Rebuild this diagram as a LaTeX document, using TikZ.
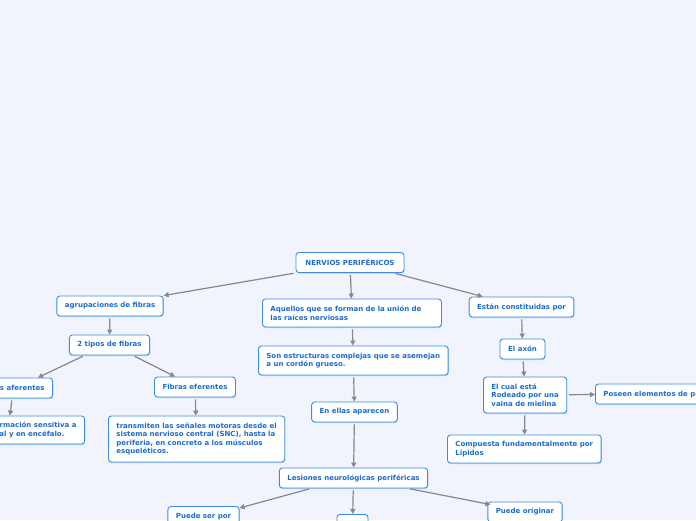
\documentclass[tikz,border=0pt]{standalone}
\usepackage{fontspec}
\setmainfont{DejaVu Sans}
\usetikzlibrary{arrows.meta,shadows}
\definecolor{bg}{RGB}{241,244,252}
\definecolor{bd}{RGB}{58,140,228}
\definecolor{tx}{RGB}{28,108,208}
\definecolor{ln}{RGB}{135,135,140}
\begin{document}
\begin{tikzpicture}[x=1pt, y=-1pt, b/.style={draw=bd, fill=white, line width=0.9pt, rounded corners=3pt, text=tx, font=\fontsize{7}{8.5}\selectfont\bfseries, inner xsep=8pt, inner ysep=2pt, minimum height=20pt, drop shadow={shadow xshift=0.4pt, shadow yshift=-1pt, opacity=0.35, fill=bd}}, ar/.style={draw=ln, line width=1.2pt, -{Triangle[length=5pt,width=5pt]}, shorten <=2pt}]
        \useasboundingbox (0,0) rectangle (696,520);
        \fill[bg] (0,0) rectangle (696,520);
        \clip (0,0) rectangle (696,520);
        \node[b, minimum width=108pt] (root) at (350,262.5) {NERVIOS PERIFÉRICOS};
        \node[b, minimum width=106pt] (agrup) at (110,306) {agrupaciones de fibras};
        \node[b, anchor=west, text width=163pt, align=left, minimum height=28pt] (aquellos) at (262,313) {Aquellos que se forman de la unión de\\las raíces nerviosas};
        \node[b, minimum width=103pt] (estan) at (521.5,307) {Están constituidas por};
        \node[b, minimum width=79pt] (tipos) at (109.5,345) {2 tipos de fibras};
        \node[b, anchor=west, align=left, minimum height=29pt] (son) at (258,360.5) {Son estructuras complejas que se asemejan\\a un cordón grueso.};
        \node[b, minimum width=45pt] (axon) at (522.5,349) {El axón};
        \node[b, anchor=east] (aferentes) at (53,388) {Fibras aferentes};
        \node[b, minimum width=80pt] (eferentes) at (195,387) {Fibras eferentes};
        \node[b, anchor=west, align=left, minimum height=36pt] (cual) at (483,395) {El cual está\\Rodeado por una\\vaina de mielina};
        \node[b, anchor=west] (poseen) at (595,394) {Poseen elementos de protección};
        \node[b, minimum width=85pt] (ellas) at (354.5,412) {En ellas aparecen};
        \node[b, anchor=east, align=left, minimum height=28pt] (sensitiva) at (85,430) {Llevan la información sensitiva a\\médula espinal y en encéfalo.};
        \node[b, anchor=west, align=left, minimum height=46pt] (transmiten) at (108,439) {transmiten las señales motoras desde el\\sistema nervioso central (SNC), hasta la\\periferia, en concreto a los músculos\\esqueléticos.};
        \node[b, anchor=west, align=left, minimum height=28pt] (compuesta) at (447,449) {Compuesta fundamentalmente por\\Lípidos};
        \node[b, minimum width=147pt] (lesiones) at (353.5,478) {Lesiones neurológicas periféricas};
        \node[b, anchor=north, minimum width=71pt] (puedeser) at (203.5,506) {Puede ser por};
        \node[b, anchor=north, minimum width=31pt] (sm) at (352.5,514) {};
        \node[b, minimum width=74pt] (originar) at (525,512) {Puede originar};
        \draw[ar] (root.south west) -- (agrup.north east);
        \draw[ar] (root) -- (aquellos);
        \draw[ar] ([xshift=-11pt]root.south east) -- ([xshift=14pt]estan.north west);
        \draw[ar] (agrup) -- (tipos);
        \draw[ar] (aquellos) -- (son);
        \draw[ar] (son) -- (ellas);
        \draw[ar] (estan) -- (axon);
        \draw[ar] (axon) -- (cual);
        \draw[ar] (cual) -- (poseen);
        \draw[ar] (cual) -- (compuesta);
        \draw[ar] ([xshift=-25pt]tipos.south) -- ([xshift=-15pt]aferentes.north east);
        \draw[ar] ([xshift=23.5pt]tipos.south) -- ([xshift=-20pt]eferentes.north);
        \draw[ar] ([xshift=-41pt]aferentes.south east) -- ([xshift=-75pt]sensitiva.north east);
        \draw[ar] (eferentes) -- (transmiten);
        \draw[ar] (ellas) -- (lesiones);
        \draw[ar] ([xshift=-42.5pt]lesiones.south) -- ([yshift=-2pt]puedeser.north east);
        \draw[ar] (lesiones) -- (sm);
        \draw[ar] ([xshift=-20pt]lesiones.south east) -- ([xshift=3pt,yshift=-3pt]originar.north west);
      \end{tikzpicture}
\end{document}
